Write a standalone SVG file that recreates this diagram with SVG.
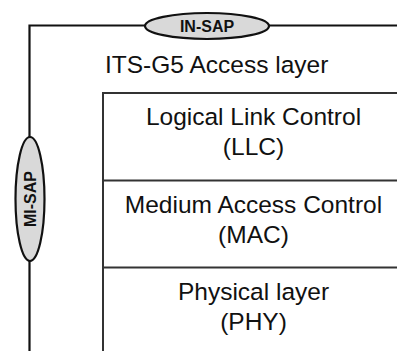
<svg xmlns="http://www.w3.org/2000/svg" width="397" height="351" viewBox="0 0 397 351">
<style>
.line{fill:none;stroke:#111;stroke-width:2.2}
.box{fill:none;stroke:#333;stroke-width:2}
.sap{fill:#d9d9d9;stroke:#111;stroke-width:2.2}
.t{font-family:"Liberation Sans",Arial,sans-serif;font-size:24.5px;fill:#111}
.b{font-family:"Liberation Sans",Arial,sans-serif;font-size:16px;font-weight:bold;fill:#111}
</style>
<rect width="397" height="351" fill="#fff"/>
<g id="connectors">
<path class="line" d="M29.5 352 V25.5 H398"/>
</g>
<g id="access-layer">
<text class="t" x="105" y="73">ITS-G5 Access layer</text>
</g>
<g id="llc">
<path class="box" d="M399 93 H103 V352"/>
<text class="t" x="253.5" y="125" text-anchor="middle">Logical Link Control</text>
<text class="t" x="253.5" y="155" text-anchor="middle">(LLC)</text>
</g>
<g id="mac">
<path class="box" d="M103 180.5 H399"/>
<text class="t" x="253.5" y="213" text-anchor="middle">Medium Access Control</text>
<text class="t" x="253.5" y="243" text-anchor="middle">(MAC)</text>
</g>
<g id="phy">
<path class="box" d="M103 267.5 H399"/>
<text class="t" x="253.5" y="300" text-anchor="middle">Physical layer</text>
<text class="t" x="253.5" y="330" text-anchor="middle">(PHY)</text>
</g>
<g id="in-sap">
<ellipse class="sap" cx="207" cy="26" rx="62" ry="13"/>
<text class="b" x="207" y="32" text-anchor="middle">IN-SAP</text>
</g>
<g id="mi-sap">
<ellipse class="sap" cx="30" cy="199" rx="14.5" ry="62"/>
<text class="b" transform="translate(36 199) rotate(-90)" x="0" y="0" text-anchor="middle">MI-SAP</text>
</g>
</svg>
